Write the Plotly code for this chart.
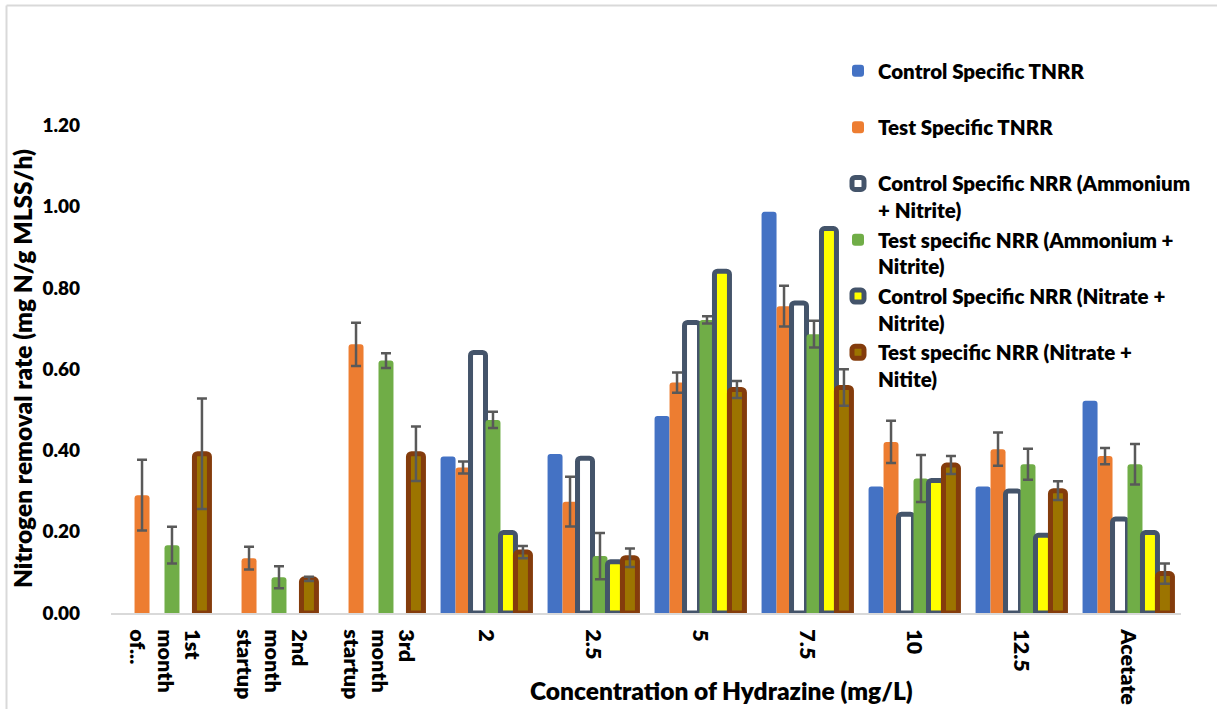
import plotly.graph_objects as go

# Categories (phase / hydrazine concentration)
categories = ["1st month of...", "2nd month startup", "3rd month startup",
              "2", "2.5", "5", "7.5", "10", "12.5", "Acetate"]
category_labels = ["1st<br>month<br>of...", "2nd<br>month<br>startup", "3rd<br>month<br>startup",
                   "2", "2.5", "5", "7.5", "10", "12.5", "Acetate"]

# Specific nitrogen removal rates (mg N/g MLSS/h)
control_tnrr = [None, None, None, 0.385, 0.391, 0.485, 0.987, 0.311, 0.311, 0.522]
test_tnrr = [0.290, 0.135, 0.661, 0.358, 0.274, 0.567, 0.755, 0.421, 0.403, 0.386]
test_tnrr_err = [0.087, 0.028, 0.053, 0.015, 0.061, 0.025, 0.050, 0.052, 0.041, 0.020]
control_amm = [None, None, None, 0.641, 0.381, 0.715, 0.763, 0.243, 0.300, 0.231]
test_amm = [0.167, 0.088, 0.621, 0.475, 0.140, 0.721, 0.686, 0.331, 0.366, 0.366]
test_amm_err = [0.045, 0.027, 0.018, 0.020, 0.057, 0.009, 0.033, 0.058, 0.038, 0.050]
control_nit = [None, None, None, 0.198, 0.126, 0.841, 0.946, 0.326, 0.191, 0.198]
test_nit = [0.392, 0.084, 0.392, 0.150, 0.136, 0.550, 0.555, 0.364, 0.301, 0.097]
test_nit_err = [0.136, 0.005, 0.067, 0.015, 0.023, 0.021, 0.045, 0.022, 0.023, 0.025]

y_ticks = [0.0, 0.2, 0.4, 0.6, 0.8, 1.0, 1.2]

FONT = "Lato"
WEIGHT = 800
ERR = dict(type="data", visible=True, color="#595959", thickness=2.5, width=5)

fig = go.Figure()


def add_bar(name, values, fill, line_color=None, line_width=0, err=None):
    marker = dict(color=fill, cornerradius=3)
    if line_color:
        marker["line"] = dict(color=line_color, width=line_width)
    else:
        marker["line"] = dict(width=0)
    kw = {}
    if err is not None:
        kw["error_y"] = dict(array=err, **ERR)
    fig.add_trace(go.Bar(x=categories, y=values, name=name, marker=marker, **kw))


add_bar("Control Specific TNRR<br> ", control_tnrr, "#4472C4")
add_bar("Test Specific TNRR<br> ", test_tnrr, "#ED7D31", err=test_tnrr_err)
add_bar("Control Specific NRR (Ammonium<br>+ Nitrite)", control_amm, "#FFFFFF", "#44546A", 5)
add_bar("Test specific NRR (Ammonium +<br>Nitrite)", test_amm, "#70AD47", err=test_amm_err)
add_bar("Control Specific NRR (Nitrate +<br>Nitrite)", control_nit, "#FFFF00", "#44546A", 5)
add_bar("Test specific NRR (Nitrate +<br>Nitite)", test_nit, "#9C7400", "#843C0C", 5, err=test_nit_err)

L, R, T, B = 111, 36, 44, 96
W, H = 1217, 709
pw, ph = W - L - R, H - T - B


def px_x(x):
    return (x - L) / pw


def px_y(y):
    return (H - B - y) / ph


fig.update_layout(
    width=W, height=H,
    margin=dict(l=L, r=R, t=T, b=B, pad=0, autoexpand=False),
    paper_bgcolor="white", plot_bgcolor="white",
    barmode="group", bargap=0.16, bargroupgap=0,
    font=dict(family=FONT, color="#000000"),
    showlegend=True,
    legend=dict(
        x=px_x(838), y=px_y(51), xanchor="left", yanchor="top",
        font=dict(family=FONT, size=20.5, color="#000000", weight=WEIGHT),
        bgcolor="rgba(0,0,0,0)", valign="top", traceorder="normal",
        itemwidth=30,
    ),
    xaxis=dict(
        tickmode="array", tickvals=categories, ticktext=category_labels,
        tickangle=90, showgrid=False, zeroline=False, automargin=False,
        showline=True, linecolor="#D9D9D9", linewidth=2,
        ticks="", ticklabelstandoff=10,
        tickfont=dict(family=FONT, size=21.5, color="#000000", weight=WEIGHT),
    ),
    yaxis=dict(
        range=[0, 1.4], tickvals=y_ticks, tickformat=".2f", automargin=False,
        showgrid=False, zeroline=False, showline=False, ticks="",
        ticklabelstandoff=30,
        tickfont=dict(family=FONT, size=19, color="#000000", weight=WEIGHT),
    ),
    annotations=[
        dict(text="Nitrogen removal rate (mg N/g MLSS/h)", textangle=-90,
             xref="paper", yref="paper", x=px_x(22), y=px_y(369),
             xanchor="center", yanchor="middle", showarrow=False,
             font=dict(family=FONT, size=24.5, color="#000000", weight=WEIGHT)),
        dict(text="Concentration of Hydrazine (mg/L)",
             xref="paper", yref="paper", x=px_x(721), y=px_y(690),
             xanchor="center", yanchor="middle", showarrow=False,
             font=dict(family=FONT, size=24.5, color="#000000", weight=WEIGHT)),
    ],
    shapes=[
        dict(type="line", xref="paper", yref="paper", x0=px_x(6.5), x1=px_x(6.5),
             y0=px_y(5.5), y1=px_y(H + 5), line=dict(color="#D9D9D9", width=2)),
        dict(type="line", xref="paper", yref="paper", x0=px_x(6.5), x1=px_x(W + 5),
             y0=px_y(5.5), y1=px_y(5.5), line=dict(color="#D9D9D9", width=2)),
    ],
)

fig.write_html("out.html")
